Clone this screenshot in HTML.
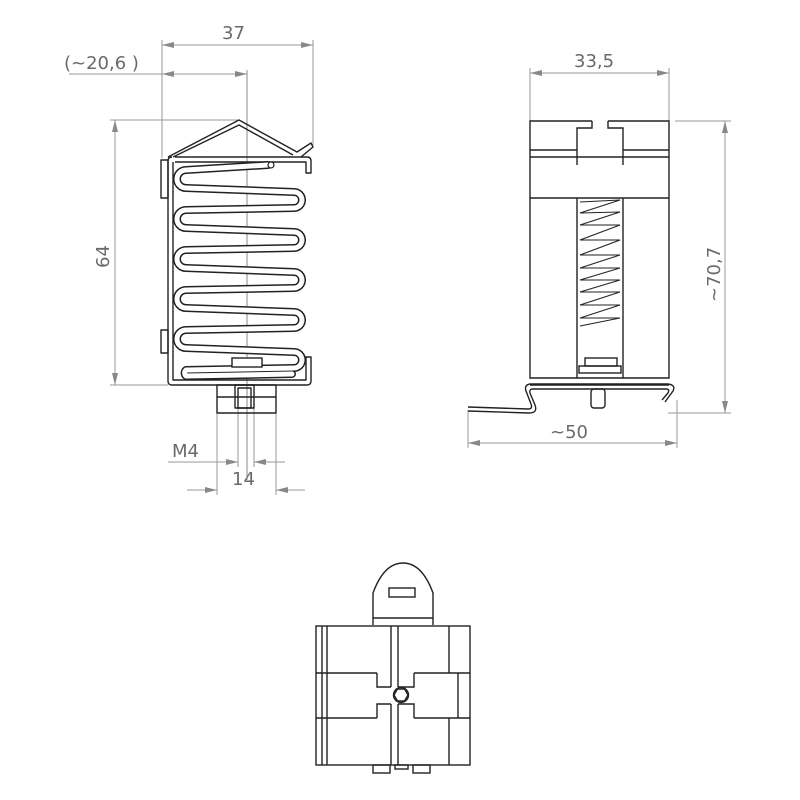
<!DOCTYPE html>
<html><head><meta charset="utf-8"><style>
html,body{margin:0;padding:0;background:#fff}
svg{display:block}
text{font-family:"DejaVu Sans","Liberation Sans",sans-serif;fill:#6a6a6a;font-size:18px}
</style></head><body>
<svg width="800" height="800" viewBox="0 0 800 800" xmlns="http://www.w3.org/2000/svg">
<defs>
<marker id="a" viewBox="0 0 12 6" refX="12" refY="3" markerWidth="14" markerHeight="6" orient="auto-start-reverse" markerUnits="userSpaceOnUse"><path d="M0 0L12 3L0 6z" fill="#888"/></marker>
</defs>
<g stroke="#999" stroke-width="1" fill="none">
<line x1="162" y1="40" x2="162" y2="158"/>
<line x1="313" y1="40" x2="313" y2="145"/>
<line x1="162" y1="45" x2="313" y2="45" marker-start="url(#a)" marker-end="url(#a)"/>
<line x1="69" y1="74" x2="162" y2="74"/>
<line x1="162" y1="74" x2="247" y2="74" marker-start="url(#a)" marker-end="url(#a)"/>
<line x1="247" y1="70" x2="247" y2="480" stroke="#888"/>
<line x1="110" y1="120" x2="240" y2="120"/>
<line x1="110" y1="385" x2="168" y2="385"/>
<line x1="115" y1="120" x2="115" y2="385" marker-start="url(#a)" marker-end="url(#a)"/>
<line x1="238" y1="398" x2="238" y2="467"/>
<line x1="254" y1="398" x2="254" y2="467"/>
<line x1="168" y1="462" x2="238" y2="462" marker-end="url(#a)"/>
<line x1="254" y1="462" x2="285" y2="462" marker-start="url(#a)"/>
<line x1="217" y1="413" x2="217" y2="495"/>
<line x1="276" y1="413" x2="276" y2="495"/>
<line x1="187" y1="490" x2="217" y2="490" marker-end="url(#a)"/>
<line x1="276" y1="490" x2="305" y2="490" marker-start="url(#a)"/>
<line x1="530" y1="68" x2="530" y2="121"/>
<line x1="669" y1="68" x2="669" y2="121"/>
<line x1="530" y1="73" x2="669" y2="73" marker-start="url(#a)" marker-end="url(#a)"/>
<line x1="675" y1="121" x2="731" y2="121"/>
<line x1="668" y1="413" x2="731" y2="413"/>
<line x1="725" y1="121" x2="725" y2="413" marker-start="url(#a)" marker-end="url(#a)"/>
<line x1="468" y1="410" x2="468" y2="448"/>
<line x1="677" y1="400" x2="677" y2="448"/>
<line x1="468" y1="443" x2="677" y2="443" marker-start="url(#a)" marker-end="url(#a)"/>
</g>
<text x="222" y="39">37</text>
<text x="64" y="69">(~20,6 )</text>
<text x="0" y="0" transform="translate(109,268) rotate(-90)">64</text>
<text x="172" y="457">M4</text>
<text x="232" y="485">14</text>
<text x="574" y="67">33,5</text>
<text x="0" y="0" transform="translate(720,302) rotate(-90)">~70,7</text>
<text x="550" y="438">~50</text>

<!-- LEFT VIEW -->
<g stroke="#222" stroke-width="1.4" fill="none" stroke-linejoin="round">
<path d="M168 157 L239 120 L297 152 L311 143 L313 147 L301 157"/>
<path d="M173 157 L239 125 L293 155"/>
<path d="M175 157 L307 157 Q311 157 311 161 L311 173 L306 173 L306 162 L175 162"/>
<path d="M168 161 Q168 157 172 157 M168 161 L168 381 Q168 385 172 385 L307 385 Q311 385 311 381 L311 357 L306 357 L306 380 L173 380 L173 162"/>
<rect x="161" y="160" width="7" height="38"/>
<rect x="161" y="330" width="7" height="23"/>
<rect x="217" y="385" width="59" height="28"/>
<line x1="217" y1="397" x2="276" y2="397"/>
<rect x="235" y="385" width="19" height="23"/>
<rect x="238" y="388" width="13" height="20"/>
</g>
<g fill="none" stroke-linejoin="round" stroke-linecap="round">
<path d="M268 165 L186 170 A9 9 0 0 0 186 188 L294 192 A8 8 0 0 1 294 208 L186 210 A9 9 0 0 0 186 228 L294 232 A8 8 0 0 1 294 248 L186 250 A9 9 0 0 0 186 268 L294 272 A8 8 0 0 1 294 288 L186 290 A9 9 0 0 0 186 308 L294 312 A8 8 0 0 1 294 328 L186 330 A9 9 0 0 0 186 348 L294 352 A8 8 0 0 1 294 368 L186 370 A4 4 0 0 0 186 376 L292 374" stroke="#222" stroke-width="8"/>
<path d="M268 165 L186 170 A9 9 0 0 0 186 188 L294 192 A8 8 0 0 1 294 208 L186 210 A9 9 0 0 0 186 228 L294 232 A8 8 0 0 1 294 248 L186 250 A9 9 0 0 0 186 268 L294 272 A8 8 0 0 1 294 288 L186 290 A9 9 0 0 0 186 308 L294 312 A8 8 0 0 1 294 328 L186 330 A9 9 0 0 0 186 348 L294 352 A8 8 0 0 1 294 368 L186 370 A4 4 0 0 0 186 376 L292 374" stroke="#fff" stroke-width="5"/>
</g>
<rect x="232" y="358" width="30" height="9" fill="#fff" stroke="#222" stroke-width="1.4"/>
<circle cx="271" cy="165" r="3" fill="#fff" stroke="#222" stroke-width="1.2"/>

<!-- RIGHT VIEW -->
<g stroke="#222" stroke-width="1.4" fill="none">
<path d="M592 121 L530 121 L530 378 L669 378 L669 121 L608 121"/>
<path d="M592 121 L592 128 L577 128 L577 158"/>
<path d="M608 121 L608 128 L623 128 L623 158"/>
<line x1="530" y1="150" x2="577" y2="150"/><line x1="623" y1="150" x2="669" y2="150"/>
<line x1="530" y1="157" x2="669" y2="157"/>
<line x1="577" y1="158" x2="577" y2="165"/><line x1="623" y1="158" x2="623" y2="165"/>
<line x1="530" y1="198" x2="669" y2="198"/>
<line x1="577" y1="198" x2="577" y2="378"/><line x1="623" y1="198" x2="623" y2="378"/>
<polyline stroke-width="1.1" points="580,202 620,200 580,213 620,212 580,225 620,225 580,240 620,240 580,255 620,255 580,268 620,268 580,280 620,280 580,292 620,292 580,305 620,305 580,318 620,318 580,326"/>
<rect x="585" y="358" width="32" height="8"/>
<rect x="579" y="366" width="42" height="7"/>
<line x1="530" y1="385" x2="669" y2="385"/>
<path d="M468 407 L528 409 Q533 409 531 404 L526 391 Q524 385 530 384 L668 384 Q676 385 673 391 L665 402"/>
<path d="M468 411 L529 413 Q538 413 535 405 L530 393 Q529 389 533 389 L666 389 Q670 389 668 393 L662 400"/>
<rect x="591" y="389" width="14" height="19" rx="3"/>
</g>

<!-- BOTTOM VIEW -->
<g stroke="#222" stroke-width="1.4" fill="none">
<path d="M373 625 L373 593 Q384 563 403 563 Q422 563 433 593 L433 625"/>
<rect x="389" y="588" width="26" height="9"/>
<line x1="373" y1="618" x2="433" y2="618"/>
<rect x="316" y="626" width="154" height="139"/>
<line x1="322" y1="626" x2="322" y2="765"/>
<line x1="327" y1="626" x2="327" y2="765"/>
<line x1="449" y1="626" x2="449" y2="673"/>
<line x1="449" y1="718" x2="449" y2="765"/>
<line x1="458" y1="673" x2="458" y2="718"/>
<line x1="316" y1="673" x2="377" y2="673"/><line x1="414" y1="673" x2="470" y2="673"/>
<line x1="316" y1="718" x2="377" y2="718"/><line x1="414" y1="718" x2="470" y2="718"/>
<path d="M377 673 L377 687 L391 687 M377 718 L377 704 L391 704"/>
<path d="M414 673 L414 687 L398 687 M414 718 L414 704 L398 704"/>
<line x1="391" y1="626" x2="391" y2="687"/><line x1="398" y1="626" x2="398" y2="687"/>
<line x1="391" y1="704" x2="391" y2="765"/><line x1="398" y1="704" x2="398" y2="765"/>
<polygon points="408,695 404.5,701 397.5,701 394,695 397.5,689 404.5,689"/>
<circle cx="401" cy="695" r="7.5"/>
<rect x="373" y="765" width="17" height="8"/>
<rect x="395" y="765" width="13" height="4"/>
<rect x="413" y="765" width="17" height="8"/>
</g>
</svg>
</body></html>
